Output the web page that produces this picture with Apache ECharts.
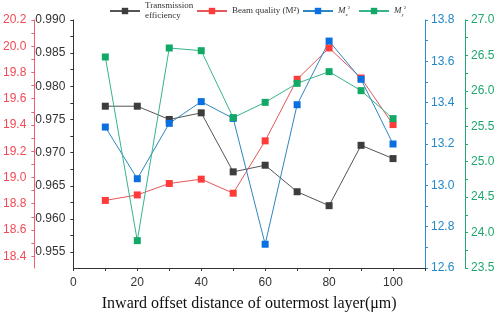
<!DOCTYPE html>
<html>
<head>
<meta charset="utf-8">
<script src="https://cdn.jsdelivr.net/npm/echarts@6/dist/echarts.min.js"></script>
<style>
  html, body { margin: 0; padding: 0; background: #fff; }
  #chart { width: 498px; height: 320px; }
</style>
</head>
<body>
<div id="chart"></div>
<script>
// data
const offsets = [10, 20, 30, 40, 50, 60, 70, 80, 90, 100]
const transmission = [0.9770, 0.9770, 0.9750, 0.9760, 0.9671, 0.9681, 0.9641, 0.9620, 0.9711, 0.9691]
const beamQuality = [18.825, 18.867, 18.954, 18.987, 18.880, 19.279, 19.748, 19.987, 19.758, 19.403]
const mx2 = [13.282, 13.032, 13.300, 13.405, 13.324, 12.715, 13.390, 13.698, 13.513, 13.200]
const my2 = [26.478, 23.886, 26.605, 26.567, 25.622, 25.838, 26.106, 26.271, 26.003, 25.608]

// tick labels
const xTicks = [0, 20, 40, 60, 80, 100]
const transTicks = [0.955, 0.960, 0.965, 0.970, 0.975, 0.980, 0.985, 0.990]
const beamTicks = [18.4, 18.6, 18.8, 19.0, 19.2, 19.4, 19.6, 19.8, 20.0, 20.2]
const mxTicks = [12.6, 12.8, 13.0, 13.2, 13.4, 13.6, 13.8]
const myTicks = [23.5, 24.0, 24.5, 25.0, 25.5, 26.0, 26.5, 27.0]

// major + midpoint ticks
const withMinor = (arr) => {
  const out = []
  arr.forEach((v, i) => {
    out.push(v)
    if (i < arr.length - 1) out.push((v + arr[i + 1]) / 2)
  })
  return out
}

const pairs = (ys) => offsets.map((x, i) => [x, ys[i]])

const chart = echarts.init(document.getElementById('chart'))

const yAxisBase = (color, labelColor, min, max, ticks, digits, position, offset, margin) => ({
  type: 'value',
  position: position,
  offset: offset,
  min: min,
  max: max,
  splitLine: { show: false },
  axisLine: { show: true, lineStyle: { color: color, width: 1 } },
  axisTick: { show: true, length: 3, customValues: withMinor(ticks), lineStyle: { color: color } },
  axisLabel: {
    customValues: ticks,
    color: labelColor,
    fontSize: 12,
    fontFamily: 'Liberation Sans, Arial, sans-serif',
    margin: margin,
    formatter: (v) => v.toFixed(digits)
  }
})

const serif = 'Liberation Serif, Times New Roman, serif'
const legendRich = {
  it: { fontFamily: serif, fontStyle: 'italic', fontSize: 9, color: '#333', lineHeight: 12 },
  sub: { fontFamily: serif, fontStyle: 'italic', fontSize: 5, color: '#333', verticalAlign: 'bottom', lineHeight: 12 },
  sup: { fontFamily: serif, fontSize: 5, color: '#333', verticalAlign: 'top', lineHeight: 12 }
}
const legendItem = (name, left, top, text) => ({
  data: [name],
  left: left,
  top: top,
  itemWidth: 30,
  itemHeight: 8,
  itemGap: 0,
  padding: 0,
  selectedMode: false,
  textStyle: { fontFamily: serif, fontSize: 9, color: '#333', lineHeight: 10, rich: legendRich },
  formatter: () => text
})

const series = [
  { name: 'Transmission efficiency', data: pairs(transmission), yAxisIndex: 0, marker: '#3d3d3d', line: '#555555' },
  { name: 'Beam quality (M²)', data: pairs(beamQuality), yAxisIndex: 1, marker: '#ff3a3a', line: '#e4585b' },
  { name: 'Mx2', data: pairs(mx2), yAxisIndex: 2, marker: '#0a6fe0', line: '#2f87bf' },
  { name: 'My2', data: pairs(my2), yAxisIndex: 3, marker: '#12a865', line: '#38b38e' }
].map(s => ({
  name: s.name,
  type: 'line',
  yAxisIndex: s.yAxisIndex,
  data: s.data,
  symbol: 'rect',
  symbolSize: 7,
  itemStyle: { color: s.marker },
  lineStyle: { color: s.line, width: 1 },
  animation: false
}))

const option = {
  backgroundColor: '#fff',
  animation: false,
  grid: { left: 73, right: 73, top: 20, bottom: 52 },
  legend: [
    legendItem('Transmission efficiency', 109, 1, 'Transmission\nefficiency'),
    legendItem('Beam quality (M²)', 196, 6, 'Beam quality (M²)'),
    legendItem('Mx2', 302, 5, '{it|M}{sub|x}{sup|2}'),
    legendItem('My2', 358, 5, '{it|M}{sub|y}{sup|2}')
  ],
  xAxis: {
    type: 'value',
    min: 0,
    max: 110,
    interval: 10,
    splitLine: { show: false },
    axisLine: { lineStyle: { color: '#333', width: 1 } },
    axisTick: { length: 3, lineStyle: { color: '#333' } },
    axisLabel: {
      customValues: xTicks,
      color: '#333',
      fontSize: 12,
      fontFamily: 'Liberation Sans, Arial, sans-serif',
      margin: 9
    },
    name: 'Inward offset distance of outermost layer(μm)',
    nameLocation: 'middle',
    nameGap: 28,
    nameTextStyle: { fontFamily: serif, fontSize: 16, color: '#111' }
  },
  yAxis: [
    yAxisBase('#333', '#333', 0.9526, 0.990, transTicks, 3, 'left', 0, 8),
    yAxisBase('#f0606c', '#f04a55', 18.31, 20.2, beamTicks, 1, 'left', 39, 8),
    yAxisBase('#2e8bc8', '#2288c8', 12.6, 13.8, mxTicks, 1, 'right', 0, 6),
    yAxisBase('#22a870', '#1fa86d', 23.5, 27.0, myTicks, 1, 'right', 40, 6)
  ],
  series: series
}

chart.setOption(option)
</script>
</body>
</html>
